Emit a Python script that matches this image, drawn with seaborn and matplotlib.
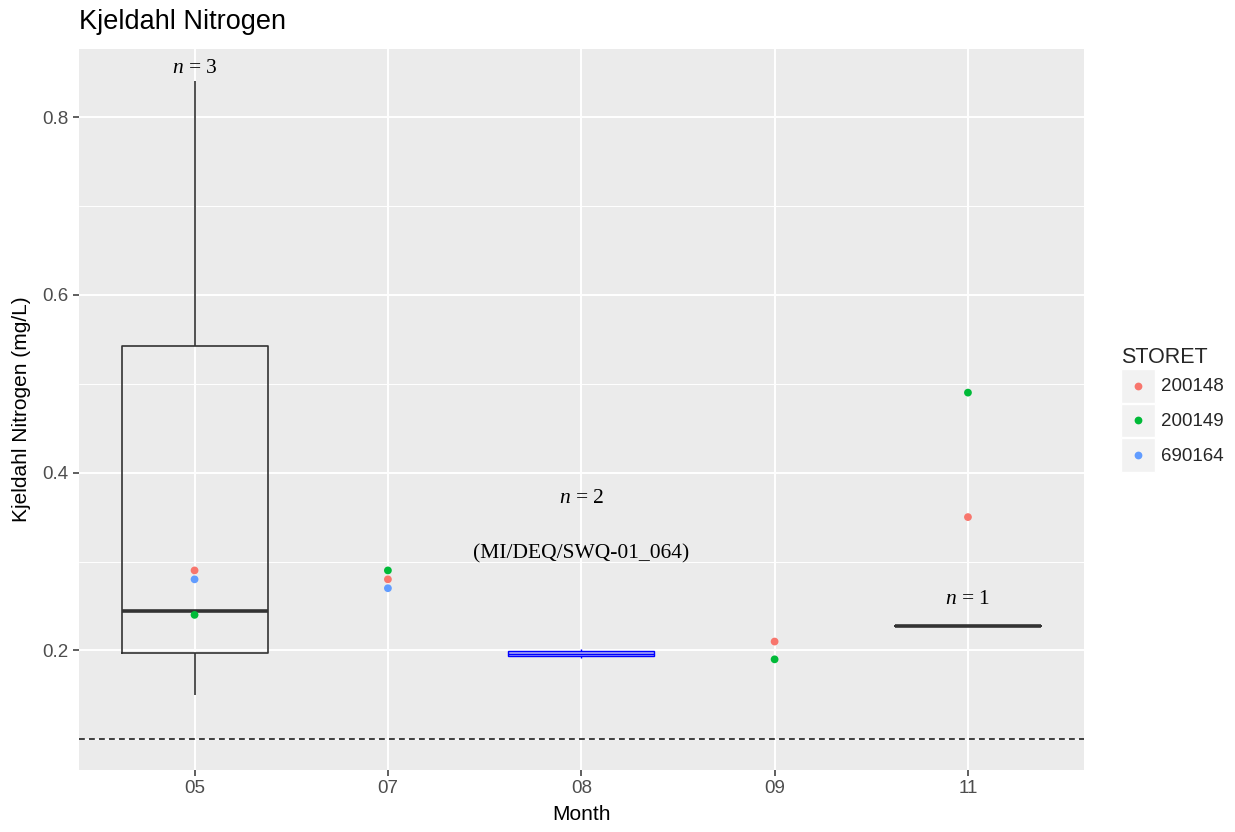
import numpy as np
import pandas as pd
import matplotlib
matplotlib.use("Agg")
import matplotlib.pyplot as plt
import seaborn as sns
from matplotlib.lines import Line2D
from matplotlib.patches import Rectangle
from matplotlib.legend_handler import HandlerBase
from matplotlib.ticker import MultipleLocator

# ---------------- data ----------------
months = ["05", "07", "08", "09", "11"]

# underlying values summarised by the boxplots
box_05 = [0.15, 0.244, 0.84]
box_08 = [0.191, 0.202]
box_11 = [0.228]

# site points
pt_month = ["05", "05", "05", "07", "07", "07", "09", "09", "11", "11"]
pt_storet = ["200148", "690164", "200149", "200149", "200148", "690164",
             "200148", "200149", "200149", "200148"]
pt_value = [0.29, 0.28, 0.24, 0.29, 0.28, 0.27, 0.21, 0.19, 0.49, 0.35]

storet_levels = ["200148", "200149", "690164"]
storet_colors = ["#F8766D", "#00BA38", "#619CFF"]

ref_line = 0.1

labels_text = ["n = 3", "n = 2", "(MI/DEQ/SWQ-01_064)", "n = 1"]
labels_month = ["05", "08", "08", "11"]
labels_y = [0.855, 0.371, 0.309, 0.257]

# ---------------- style ----------------
sns.set_theme(style="darkgrid")
plt.rcParams["font.family"] = ["Liberation Sans", "DejaVu Sans"]
plt.rcParams["mathtext.fontset"] = "custom"
plt.rcParams["mathtext.rm"] = "Liberation Serif"
plt.rcParams["mathtext.it"] = "Liberation Serif:italic"

fig = plt.figure(figsize=(12.35, 8.32), dpi=100)
ax = fig.add_axes([0.0636, 0.0745, 0.8141, 0.8666])
ax.set_facecolor("#EBEBEB")

df_05 = pd.DataFrame({"Month": "05", "value": box_05})
df_08 = pd.DataFrame({"Month": "08", "value": box_08})
df_11 = pd.DataFrame({"Month": "11", "value": box_11})
df_dark = pd.concat([df_05, df_11])

sns.boxplot(data=df_dark, x="Month", y="value", order=months, fill=False,
            color="#333333", width=0.755, linewidth=1.2, whis=10,
            showcaps=False, medianprops=dict(linewidth=2.6), ax=ax, zorder=3)
sns.boxplot(data=df_08, x="Month", y="value", order=months, fill=True,
            color="#A0A0FF", linecolor="#0000FF", width=0.755, linewidth=1.0,
            whis=10, showcaps=False,
            medianprops=dict(linewidth=1.0, color="#0000FF"),
            ax=ax, zorder=3)

df_pts = pd.DataFrame({"Month": pt_month, "STORET": pt_storet, "value": pt_value})
sns.stripplot(data=df_pts, x="Month", y="value", hue="STORET", order=months,
              hue_order=storet_levels, palette=storet_colors, jitter=False,
              dodge=False, size=5.6, linewidth=0, ax=ax, zorder=5, legend=False)

ax.axhline(ref_line, color="#222222", linestyle=(0, (3.5, 2.5)), linewidth=1.2, zorder=4)

for t, m, y in zip(labels_text, labels_month, labels_y):
    xi = months.index(m)
    s = t.replace("n =", "$n$ =") if t.startswith("n") else t
    ax.text(xi, y, s, ha="center", va="center", fontsize=15.5,
            family="Liberation Serif", color="black", zorder=6)

# axes formatting
ax.set_xlim(-0.6, 4.6)
ax.set_ylim(0.0655, 0.8765)
ax.yaxis.set_minor_locator(MultipleLocator(0.1))
ax.set_yticks([0.2, 0.4, 0.6, 0.8])
ax.set_yticklabels(["0.2", "0.4", "0.6", "0.8"])
ax.grid(which="major", color="white", linewidth=1.4)
ax.grid(which="minor", axis="y", color="white", linewidth=0.7)
ax.tick_params(axis="both", which="major", length=4, width=1.1, color="#333333",
               labelcolor="#4D4D4D", labelsize=13.5, pad=3, bottom=True, left=True)
ax.tick_params(axis="y", which="minor", length=0)
for sp in ax.spines.values():
    sp.set_visible(False)
ax.set_axisbelow(True)

ax.set_xlabel("Month", fontsize=15, color="black", labelpad=6)
ax.set_ylabel("Kjeldahl Nitrogen (mg/L)", fontsize=15, color="black", labelpad=8)

fig.text(0.064, 1 - 22 / 832, "Kjeldahl Nitrogen", fontsize=19.5, ha="left",
         va="center", color="black")


# legend with ggplot-style grey key boxes
class KeyHandler(HandlerBase):
    def create_artists(self, legend, orig_handle, xdescent, ydescent,
                       width, height, fontsize, trans):
        r = Rectangle((-xdescent, -ydescent), width, height,
                      facecolor="#F2F2F2", edgecolor="white", linewidth=1.0,
                      transform=trans)
        m = Line2D([width / 2 - xdescent], [height / 2 - ydescent], marker="o",
                   markersize=5.6, color=orig_handle.get_color(), linestyle="",
                   markeredgewidth=0, transform=trans)
        return [r, m]


handles = [Line2D([], [], color=c, marker="o", linestyle="") for c in storet_colors]
leg = ax.legend(handles, storet_levels, title="STORET", loc="center left",
                bbox_to_anchor=(1.037, 0.5), frameon=False, fontsize=13.5,
                title_fontsize=15.5, handler_map={Line2D: KeyHandler()},
                handlelength=1.8, handleheight=2.4, labelspacing=0.05,
                handletextpad=0.35, borderaxespad=0.0, borderpad=0.0)
leg._legend_box.align = "left"

fig.savefig("out.png", dpi=100)
